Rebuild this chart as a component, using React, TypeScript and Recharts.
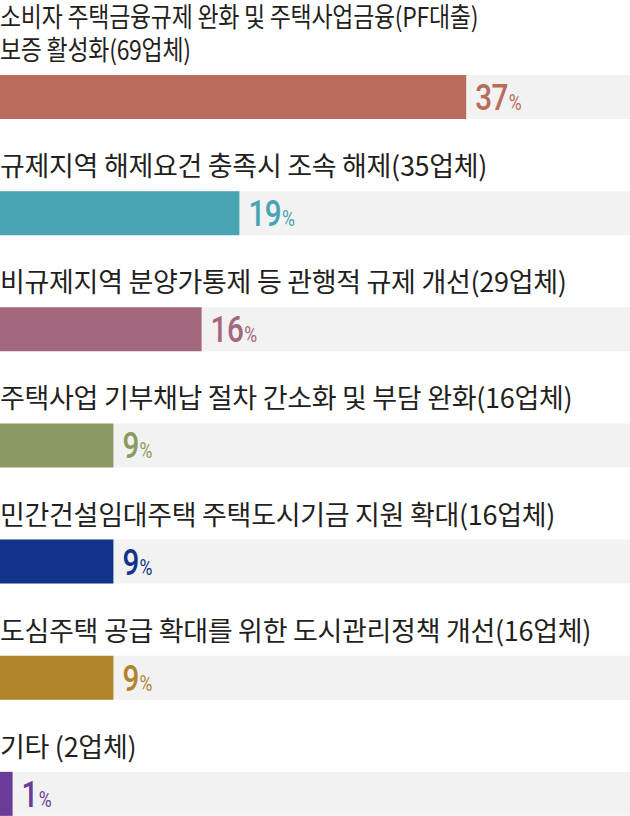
import { BarChart, Bar, XAxis, YAxis, Cell, LabelList } from 'recharts';

// 항목별 응답 비율 (%)
const titles: string[][] = [
  ['소비자 주택금융규제 완화 및 주택사업금융(PF대출)', '보증 활성화(69업체)'],
  ['규제지역 해제요건 충족시 조속 해제(35업체)'],
  ['비규제지역 분양가통제 등 관행적 규제 개선(29업체)'],
  ['주택사업 기부채납 절차 간소화 및 부담 완화(16업체)'],
  ['민간건설임대주택 주택도시기금 지원 확대(16업체)'],
  ['도심주택 공급 확대를 위한 도시관리정책 개선(16업체)'],
  ['기타 (2업체)'],
];
const values = [37, 19, 16, 9, 9, 9, 1];
const colors = ['#b96b5c', '#48a3b2', '#a3677e', '#8b9a62', '#113389', '#b0842a', '#6b3b98'];

const data = values.map((v, i) => ({ name: `item${i}`, value: v }));

const TitleLabel = (props: any) => {
  const { y, index } = props;
  const lines = titles[index];
  const base = y - 15;
  // 첫 항목은 원본에서 글자가 좁게 눌려 있음
  const squeeze = lines.length > 1 ? 0.85 : 1;
  return (
    <g transform={`translate(0, ${base - (lines.length - 1) * 33}) scale(${squeeze}, 1)`}>
      <text
        x={0}
        y={0}
        fill="#231f20"
        fontSize={27}
        letterSpacing={-0.3}
        fontFamily="'Noto Sans CJK KR', sans-serif"
      >
        {lines.map((l, i) => (
          <tspan key={i} x={0} dy={i === 0 ? 0 : 33}>
            {l}
          </tspan>
        ))}
      </text>
    </g>
  );
};

const ValueLabel = (props: any) => {
  const { x, y, width, height, index } = props;
  return (
    <g transform={`translate(${x + width + 9}, ${y + height / 2 + 13}) scale(0.8, 1)`}>
      <text x={0} y={0} fill={colors[index]} fontFamily="Roboto, sans-serif">
        <tspan fontSize={37} fontWeight={500} letterSpacing={-0.5}>
          {values[index]}
        </tspan>
        <tspan fontSize={22} dx={1}>
          %
        </tspan>
      </text>
    </g>
  );
};

export default function App() {
  return (
    <div style={{ position: 'absolute', left: 0, top: 0, width: 630, height: 816, overflow: 'hidden', background: '#fff' }}>
      <BarChart
        width={630}
        height={852}
        data={data}
        layout="vertical"
        margin={{ top: 39, right: 0, left: 0, bottom: 0 }}
      >
        <XAxis type="number" domain={[0, 50]} hide />
        <YAxis type="category" dataKey="name" hide width={0} />
        <Bar
          dataKey="value"
          barSize={44}
          background={{ fill: '#f2f2f2' }}
          isAnimationActive={false}
        >
          {data.map((d, i) => (
            <Cell key={d.name} fill={colors[i]} />
          ))}
          <LabelList dataKey="value" content={TitleLabel} />
          <LabelList dataKey="value" content={ValueLabel} />
        </Bar>
      </BarChart>
    </div>
  );
}
